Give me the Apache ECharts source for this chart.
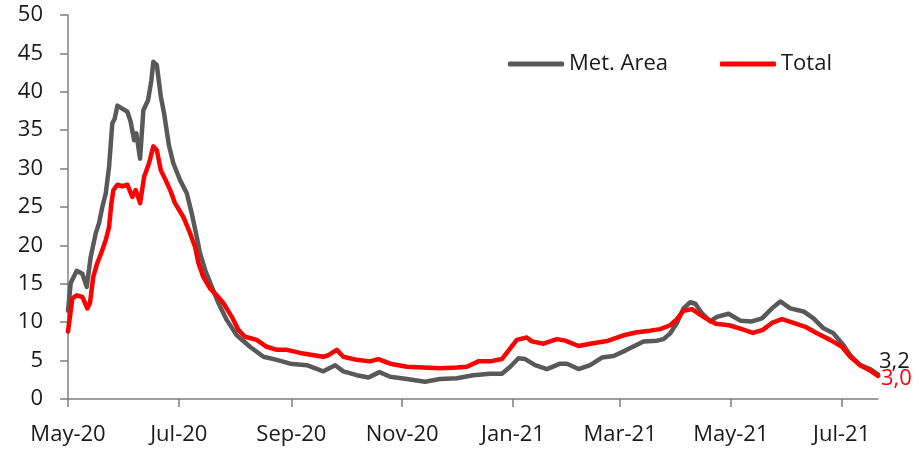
<!DOCTYPE html>
<html>
<head>
<meta charset="utf-8">
<script src="https://cdn.jsdelivr.net/npm/echarts@6.0.0/dist/echarts.min.js"></script>
<style>
html,body{margin:0;padding:0;background:#fff;}
#chart{width:919px;height:449px;}
</style>
</head>
<body>
<div id="chart"></div>
<script>
// Days counted from 2020-05-01
const tickLabels = ['May-20','Jul-20','Sep-20','Nov-20','Jan-21','Mar-21','May-21','Jul-21'];
const tickDays = [0, 61, 123, 184, 245, 304, 365, 426];
const lastDay = 446;

const metDays = [0,1.5,4.8,7.9,10.3,12.5,15.3,17.1,18.9,20.8,22.6,24.4,25.7,27.2,29.9,32.7,34.5,36.4,37.6,39.7,41.5,44.1,45.9,47,48.9,51.1,52.9,55.6,58,61.7,65.4,68.1,70.9,72.7,75.5,79.2,82.8,87.4,92.9,100.2,107.6,115,122.3,131.5,140.6,147.1,151.6,159,165.4,171.5,177.4,186.6,196.6,204.9,214.1,223.2,232.4,238.9,243.5,248,251.7,257.2,263.7,271,274.7,281.1,287.5,294,300.4,307.7,316.9,324.3,327.9,331.6,335.3,338.9,342.6,345.4,349,353.6,357.3,363.7,370.2,376.6,382.1,387.6,392.2,397.7,405,410.5,416,421.5,427,430.7,436.2,441.7,446];
const metValues = [11.5,15.1,16.7,16.3,14.6,18.5,21.6,22.9,25.0,26.8,30.2,35.9,36.5,38.2,37.8,37.4,36.1,33.7,34.6,31.3,37.6,38.9,41.5,43.9,43.5,39.4,37.2,33.0,30.7,28.5,26.8,24.2,21.1,19.0,16.8,14.6,12.5,10.3,8.3,6.8,5.5,5.1,4.6,4.4,3.6,4.4,3.6,3.1,2.8,3.5,2.9,2.6,2.25,2.6,2.7,3.1,3.3,3.3,4.2,5.3,5.2,4.4,3.9,4.6,4.6,3.9,4.4,5.4,5.6,6.4,7.5,7.6,7.8,8.55,9.9,11.8,12.6,12.4,11.2,10.1,10.7,11.1,10.2,10.1,10.5,11.8,12.7,11.8,11.4,10.5,9.2,8.55,7.0,5.7,4.4,3.9,3.2];

const totalDays = [0,2.4,4.8,7.9,10.6,12.1,13.9,16.1,18.3,20.8,22.6,23.9,25,27.2,29.9,32.7,35.4,37.3,39.7,41.9,44.6,47,48.9,51.1,53.8,56.6,58.9,63.5,67.2,70,71.8,74.5,78.2,81.9,85.5,90.2,93.8,97.5,103.9,109.4,115,120.5,127.8,140.6,143.4,148,151.6,159,166.3,170.9,177.4,186.6,195.7,204.9,214.1,219.6,226,232.4,238.9,243.5,247.1,252.6,255.4,261.8,269.2,273.8,281.1,287.5,296.7,305.9,313.2,320.6,326.1,331.6,335.3,338.9,343.5,351.2,356.7,364,369.8,377.1,382.6,387.6,393.1,399.5,406,412.4,419.7,426.2,430.7,436.2,441.7,446];
const totalValues = [8.8,13.1,13.5,13.3,11.8,12.5,15.9,17.7,19.0,20.7,22.4,25.5,27.2,27.9,27.7,27.9,26.3,27.2,25.5,28.9,30.7,32.9,32.4,29.8,28.5,27.0,25.5,23.7,21.6,19.8,17.7,15.9,14.4,13.5,12.5,10.7,9.0,8.1,7.7,6.8,6.4,6.4,6.0,5.5,5.7,6.4,5.5,5.1,4.9,5.2,4.6,4.2,4.1,4.0,4.1,4.2,4.9,4.9,5.2,6.6,7.7,8.0,7.5,7.2,7.8,7.6,6.9,7.2,7.55,8.3,8.7,8.9,9.1,9.6,10.4,11.5,11.7,10.5,9.8,9.6,9.2,8.6,9.0,9.9,10.4,9.9,9.4,8.55,7.7,6.8,5.5,4.4,3.7,3.0];

const zip = (xs, ys) => xs.map((x, i) => [x, ys[i]]);
const fmtComma = v => v.toFixed(1).replace('.', ',');
const FONT = '"Open Sans", sans-serif';

const chart = echarts.init(document.getElementById('chart'), null, {renderer: 'canvas'});
chart.setOption({
  animation: false,
  backgroundColor: '#ffffff',
  grid: {left: 68, right: 41, top: 15, bottom: 50, containLabel: false},
  legend: {
    left: 503, top: 48,
    itemWidth: 56, itemHeight: 5, itemGap: 52,
    icon: 'roundRect',
    textStyle: {fontFamily: FONT, fontSize: 22, color: '#1a1a1a', width: 106},
    data: ['Met. Area', 'Total']
  },
  xAxis: {
    type: 'value', min: 0, max: lastDay,
    splitLine: {show: false},
    axisLine: {lineStyle: {color: '#7f7f7f', width: 1.5}},
    axisTick: {show: true, length: 8, inside: false, customValues: tickDays, lineStyle: {color: '#7f7f7f', width: 1.5}},
    axisLabel: {
      customValues: tickDays,
      margin: 25,
      fontFamily: FONT, fontSize: 22, color: '#1a1a1a',
      formatter: v => tickLabels[tickDays.indexOf(v)] || ''
    }
  },
  yAxis: {
    type: 'value', min: 0, max: 50, interval: 5,
    splitLine: {show: false},
    axisLine: {show: true, lineStyle: {color: '#7f7f7f', width: 1.5}},
    axisTick: {show: true, length: 8, lineStyle: {color: '#7f7f7f', width: 1.5}},
    axisLabel: {margin: 25, fontFamily: FONT, fontSize: 22, color: '#1a1a1a'}
  },
  series: [
    {
      name: 'Met. Area', type: 'line', data: zip(metDays, metValues),
      showSymbol: false, symbol: 'none',
      color: '#595959',
      lineStyle: {color: '#595959', width: 4.5, cap: 'round', join: 'round'},
      endLabel: {show: true, formatter: p => fmtComma(p.value[1]), fontFamily: FONT, fontSize: 22, color: '#1a1a1a', offset: [-7, -13]},
      z: 2
    },
    {
      name: 'Total', type: 'line', data: zip(totalDays, totalValues),
      showSymbol: false, symbol: 'none',
      color: '#ff0000',
      lineStyle: {color: '#ff0000', width: 4.5, cap: 'round', join: 'round'},
      endLabel: {show: true, formatter: p => fmtComma(p.value[1]), fontFamily: FONT, fontSize: 22, color: '#ff0000', offset: [-5, 3]},
      z: 3
    }
  ]
});
</script>
</body>
</html>
